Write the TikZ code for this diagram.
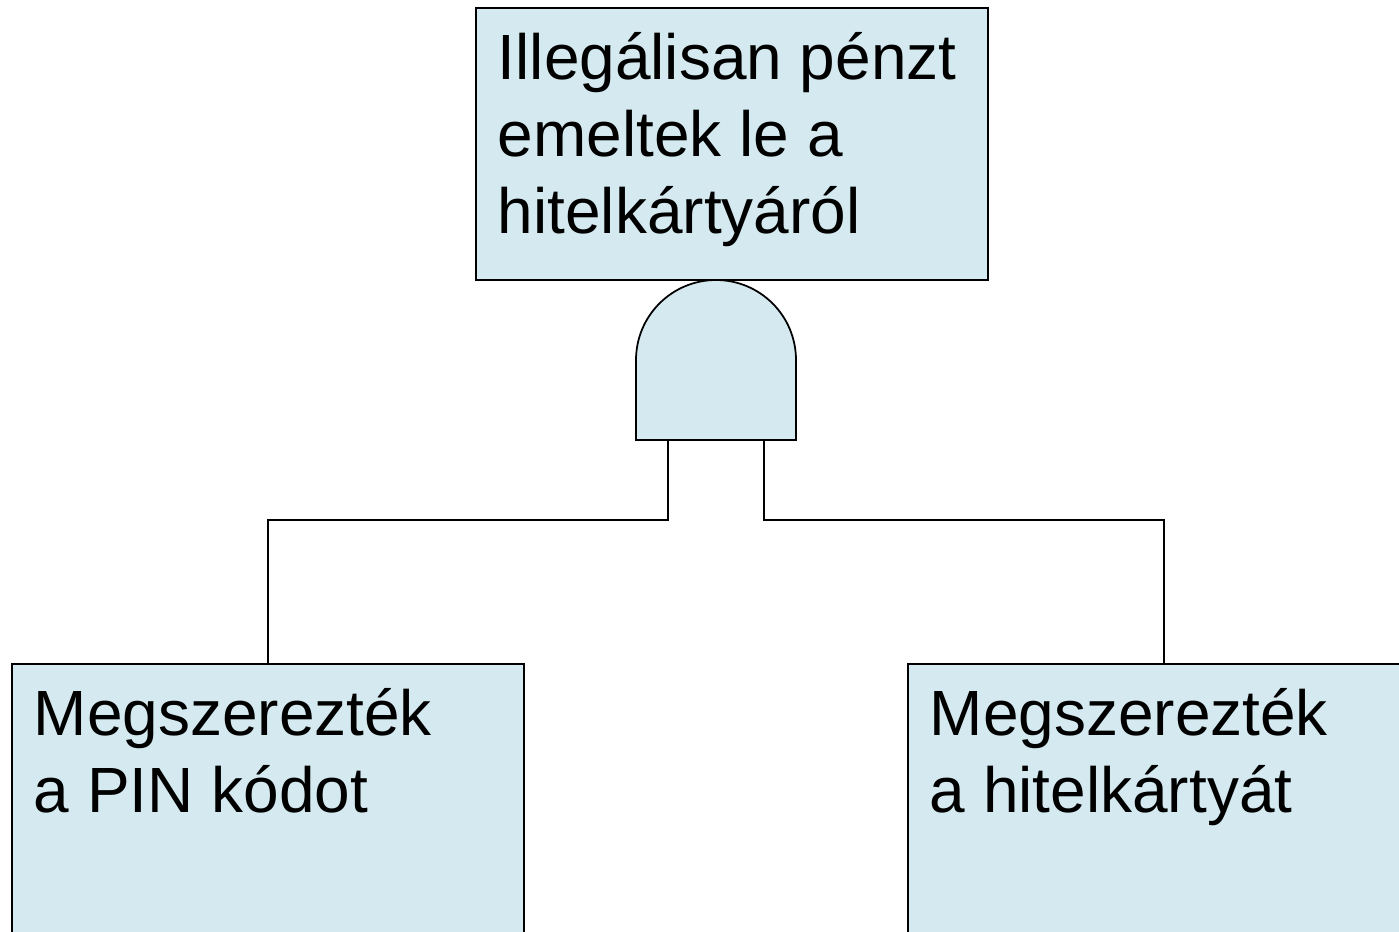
\documentclass[tikz,border=0pt]{standalone}
\usepackage{fontspec}
\setmainfont{Liberation Sans}
\usepackage{tikz}
\usepackage{xcolor}
\definecolor{boxblue}{RGB}{213,234,240}

\tikzset{
  event/.style={draw, fill=boxblue, anchor=north west, inner sep=0pt, outer sep=0pt,
    minimum width=10.24cm, minimum height=5.44cm},
  eventtext/.style={anchor=north west, align=left, inner sep=0pt,
    font=\fontsize{36.4}{43.8}\selectfont, xshift=0.42cm, yshift=-0.48cm},
  gatebox/.style={inner sep=0pt, outer sep=0pt, minimum width=3.2cm, minimum height=3.2cm}
}

\begin{document}
\begin{tikzpicture}[x=0.02cm, y=-0.02cm, line width=1pt]
\useasboundingbox (0,0) rectangle (1399,932);
\clip (0,0) rectangle (1399,932);
% events
\node[event] (top) at (476,8) {};
\node[event] (pin) at (12,664) {};
\node[event] (card) at (908,664) {};
\node[eventtext] (toptext) at (top.north west) {Illegálisan pénzt\\emeltek le a\\hitelkártyáról};
\node[eventtext] (pintext) at (pin.north west) {Megszerezték\\a PIN kódot};
\node[eventtext] (cardtext) at (card.north west) {Megszerezték\\a hitelkártyát};
% AND gate
\node[gatebox] (gate) at (716,360) {};
\draw[fill=boxblue] (gate.south west) -- (gate.west) arc (180:0:1.6cm) -- (gate.south east) -- cycle;
\draw ([xshift=-0.96cm]gate.south) -- ++(0,80) -| (pin.north);
\draw ([xshift=0.96cm]gate.south) -- ++(0,80) -| (card.north);
\end{tikzpicture}
\end{document}
